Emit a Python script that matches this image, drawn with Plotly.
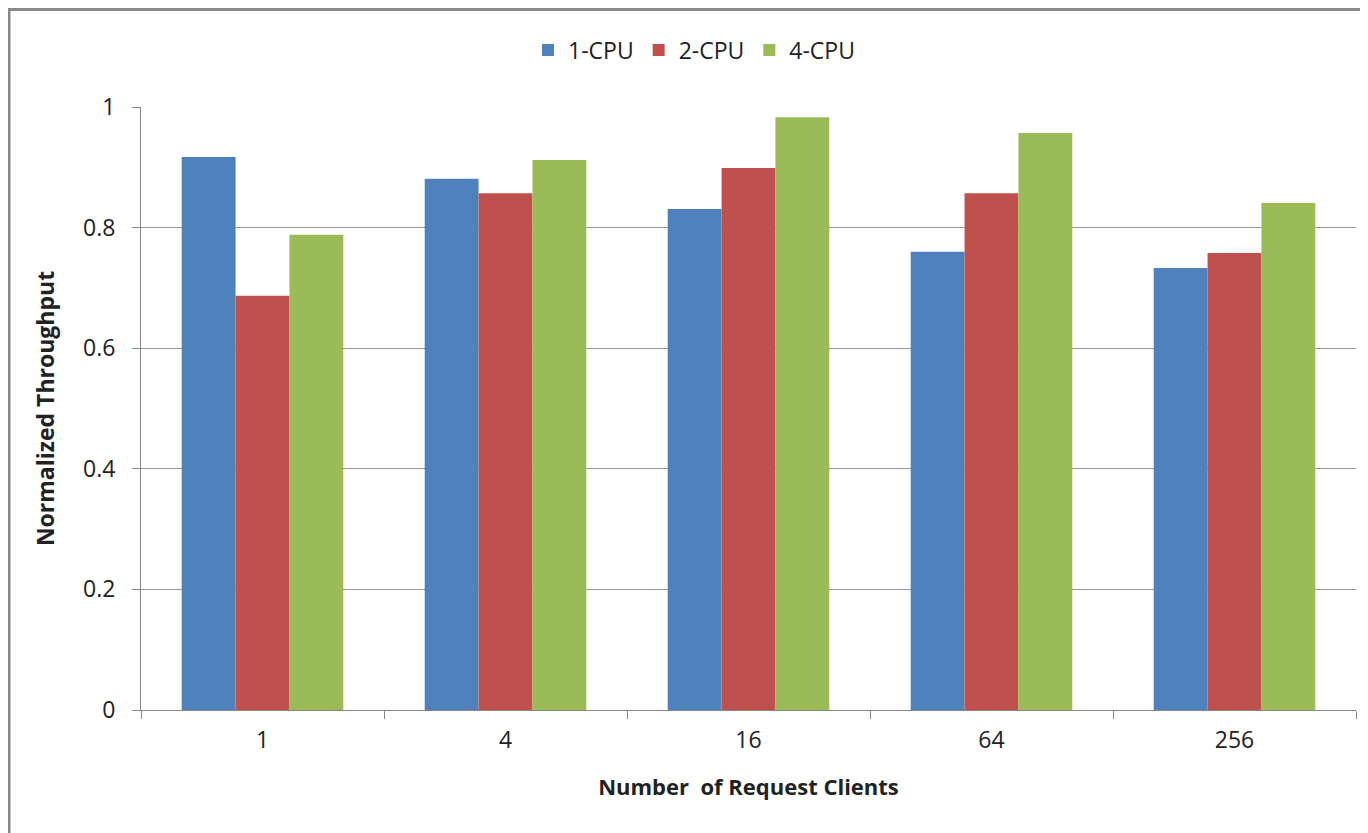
import plotly.graph_objects as go

categories = ["1", "4", "16", "64", "256"]
cpu1 = [0.917, 0.881, 0.831, 0.760, 0.733]
cpu2 = [0.687, 0.857, 0.899, 0.857, 0.758]
cpu4 = [0.788, 0.912, 0.983, 0.957, 0.841]
series_names = ["1-CPU", "2-CPU", "4-CPU"]
colors = ["#4F81BD", "#C0504D", "#9BBB59"]

fig = go.Figure()
for name, vals, col in zip(series_names, [cpu1, cpu2, cpu4], colors):
    fig.add_trace(go.Bar(x=categories, y=vals, name=name,
                         marker=dict(color=col, line=dict(width=0))))

font_family = "'Open Sans', sans-serif"
W, H = 1360, 825
L, T, PW, PH = 133, 99, 1215, 603
fig.update_layout(
    width=W, height=H,
    paper_bgcolor="white", plot_bgcolor="white",
    barmode="group", bargap=0.335, bargroupgap=0,
    margin=dict(l=L, r=W - L - PW, t=T, b=H - T - PH, pad=0),
    font=dict(family=font_family, size=23, color="#222222"),
    legend=dict(orientation="h", x=(694 - 141) / PW, xanchor="center", y=1 + 57 / PH, yanchor="middle",
                font=dict(size=23), traceorder="normal", itemwidth=30),
    xaxis=dict(
        title=dict(text="<b>Number  of Request Clients</b>", font=dict(size=22), standoff=26),
        showline=True, linecolor="#868686", linewidth=1,
        ticks="outside", tickson="boundaries", ticklen=8, tickcolor="#868686",
        showgrid=False, tickfont=dict(size=23), ticklabelstandoff=9,
    ),
    yaxis=dict(
        title=dict(text="<b>Normalized Throughput</b>", font=dict(size=23), standoff=22),
        range=[0, 1], tickvals=[0, 0.2, 0.4, 0.6, 0.8, 1],
        ticktext=["0", "0.2", "0.4", "0.6", "0.8", "1"],
        showline=True, linecolor="#868686", linewidth=1,
        ticks="outside", ticklen=8, tickcolor="#868686",
        showgrid=True, gridcolor="#969696", gridwidth=1,
        zeroline=False, tickfont=dict(size=23), ticklabelstandoff=12,
    ),
    shapes=[
        dict(type="line", xref="paper", yref="paper",
             x0=-L / PW, x1=1 + (W - L - PW) / PW + 0.01, y0=1 + (T - 1.5) / PH, y1=1 + (T - 1.5) / PH,
             line=dict(color="#888888", width=3)),
        dict(type="line", xref="paper", yref="paper",
             x0=-(L - 1) / PW, x1=-(L - 1) / PW, y0=-(H - T - PH) / PH - 0.01, y1=1 + T / PH,
             line=dict(color="#888888", width=3)),
    ],
)

fig.write_html("out.html")
